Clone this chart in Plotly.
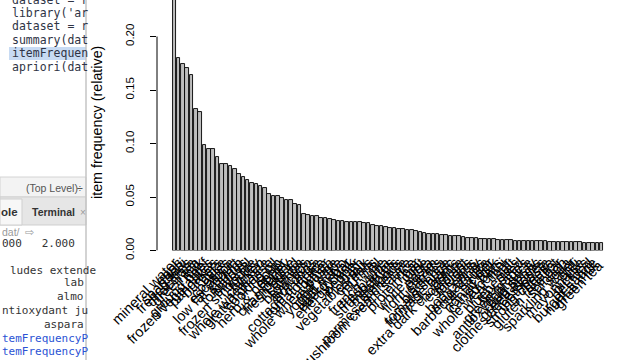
import plotly.graph_objects as go

# ---------------- data ----------------
n_transactions = 7501
items = [
    "mineral water", "eggs", "spaghetti", "french fries", "chocolate",
    "green tea", "milk", "ground beef", "frozen vegetables", "pancakes",
    "burgers", "cake", "cookies", "escalope", "low fat yogurt",
    "shrimp", "tomatoes", "olive oil", "frozen smoothie", "turkey",
    "chicken", "whole wheat rice", "grated cheese", "cooking oil", "soup",
    "herb & pepper", "honey", "champagne", "fresh bread", "salmon",
    "brownies", "avocado", "hot dogs", "cottage cheese", "tomato juice",
    "butter", "whole wheat pasta", "red wine", "yogurt cake", "light mayo",
    "energy bar", "energy drink", "pepper", "ham", "vegetables mix",
    "cereals", "muffins", "oil", "french wine", "fresh tuna",
    "strawberries", "meatballs", "almonds", "parmesan cheese", "mushroom cream sauce",
    "rice", "protein bar", "mint", "white wine", "pasta",
    "light cream", "carrots", "black tea", "tomato sauce", "fromage blanc",
    "gums", "extra dark chocolate", "eggplant", "melons", "yams",
    "body spray", "magazines", "barbecue sauce", "cider", "nonfat milk",
    "candy bars", "zucchini", "whole weat flour", "salt", "blueberries",
    "flax seed", "green grapes", "antioxydant juice", "bug spray", "green beans",
    "clothes accessories", "toothpaste", "strong cheese", "shallot", "gluten free bar",
    "spinach", "soda", "sparkling water", "chili", "mayonnaise",
    "pickles", "pet food", "burger sauce", "nonfat milk ", "green tea ",
]
counts = [
    1788, 1348, 1306, 1282, 1229,
    991, 972, 737, 715, 713,
    654, 608, 603, 595, 574,
    536, 513, 494, 475, 469,
    450, 439, 393, 383, 379,
    371, 356, 351, 323, 319,
    253, 250, 243, 239, 228,
    226, 221, 211, 205, 204,
    203, 200, 199, 199, 193,
    193, 181, 173, 169, 167,
    160, 157, 153, 149, 143,
    141, 139, 131, 124, 118,
    117, 115, 107, 106, 102,
    101, 99, 97, 90, 88,
    86, 84, 82, 80, 78,
    77, 75, 73, 71, 70,
    69, 68, 67, 67, 66,
    65, 64, 63, 63, 62,
    61, 60, 59, 58, 57,
    56, 55, 54, 53, 53,
]
support = [c / n_transactions for c in counts]

y_tick_vals = [0.00, 0.05, 0.10, 0.15, 0.20]
y_tick_text = ["0.00", "0.05", "0.10", "0.15", "0.20"]
y_title = "item frequency (relative)"

editor_lines = ["dataset = r", "library('ar", "dataset = r", "summary(dat", "itemFrequen", "apriori(dat"]
console_lines_left = ["000   2.000", "ludes extende", "ntioxydant ju", "temFrequencyP", "temFrequencyP"]
console_lines_right = ["lab", "almo", "aspara"]

# ---------------- layout helpers ----------------
W, H = 640, 360
def X(px):
    return px / W
def Y(py):
    return 1 - py / H

pitch = 4.317
first_center = 174.3
axis_left_px = 157
plot_right_px = 615
zero_px = 250.5
px_per_unit = 1070.0

x_lo = (axis_left_px - first_center) / pitch
x_hi = (plot_right_px - first_center) / pitch

fig = go.Figure()
fig.add_trace(go.Bar(
    x=list(range(len(items))), y=support,
    width=1 / 1.2,
    marker=dict(color="#bebebe", line=dict(color="black", width=0.9)),
    hoverinfo="skip",
))

shapes = []
annotations = []

# y axis line (R style: from first to last tick)
shapes.append(dict(type="line", xref="paper", yref="y",
                   x0=X(axis_left_px), x1=X(axis_left_px), y0=0, y1=0.20,
                   line=dict(color="black", width=1)))

# ---- left RStudio pane ----
shapes.append(dict(type="rect", xref="paper", yref="paper", x0=0, x1=X(86), y0=0, y1=1,
                   fillcolor="white", line=dict(width=0), layer="below"))
# highlighted editor line
shapes.append(dict(type="rect", xref="paper", yref="paper", x0=X(9), x1=X(86), y0=Y(60), y1=Y(47),
                   fillcolor="#c8dbf3", line=dict(width=0), layer="below"))
# status bar
shapes.append(dict(type="rect", xref="paper", yref="paper", x0=0, x1=X(86), y0=Y(197), y1=Y(177),
                   fillcolor="#f3f3f3", line=dict(color="#d4d4d4", width=1), layer="below"))
# tab bar
shapes.append(dict(type="rect", xref="paper", yref="paper", x0=0, x1=X(86), y0=Y(225), y1=Y(197),
                   fillcolor="#e6e6e6", line=dict(color="#cfcfcf", width=1), layer="below"))
shapes.append(dict(type="rect", xref="paper", yref="paper", x0=0, x1=X(22), y0=Y(225), y1=Y(199),
                   fillcolor="#f7f7f7", line=dict(color="#cfcfcf", width=1), layer="below"))
# plot window edge
shapes.append(dict(type="line", xref="paper", yref="paper", x0=X(86), x1=X(86), y0=0, y1=1,
                   line=dict(color="#c4c4c4", width=1.5)))

mono = "DejaVu Sans Mono"
code_color = "#2f3445"
for i, t in enumerate(editor_lines):
    annotations.append(dict(xref="paper", yref="paper", x=X(10), y=Y(-0.5 + 13.4 * i), text=t,
                            showarrow=False, xanchor="left", yanchor="middle",
                            font=dict(family=mono, size=11.5, color=code_color)))

annotations.append(dict(xref="paper", yref="paper", x=X(24), y=Y(188), text="(Top Level)",
                        showarrow=False, xanchor="left", yanchor="middle",
                        font=dict(family="Liberation Sans", size=10.5, color="#555555")))
annotations.append(dict(xref="paper", yref="paper", x=X(75), y=Y(188), text="÷",
                        showarrow=False, xanchor="left", yanchor="middle",
                        font=dict(family="Liberation Sans", size=10.5, color="#555555")))
annotations.append(dict(xref="paper", yref="paper", x=X(-1), y=Y(212), text="<b>ole</b>",
                        showarrow=False, xanchor="left", yanchor="middle",
                        font=dict(family="Liberation Sans", size=11.5, color="#333333")))
annotations.append(dict(xref="paper", yref="paper", x=X(30), y=Y(212), text="<b>Terminal</b>",
                        showarrow=False, xanchor="left", yanchor="middle",
                        font=dict(family="Liberation Sans", size=10.5, color="#333333")))
annotations.append(dict(xref="paper", yref="paper", x=X(78), y=Y(212), text="×",
                        showarrow=False, xanchor="left", yanchor="middle",
                        font=dict(family="Liberation Sans", size=10, color="#9a9a9a")))
annotations.append(dict(xref="paper", yref="paper", x=X(0), y=Y(232), text="dat/  ⇨",
                        showarrow=False, xanchor="left", yanchor="middle",
                        font=dict(family="Liberation Sans", size=10.5, color="#9a9a9a")))

console_y_left = [243, 270, 310.7, 338.3, 351.7]
console_x_left = [0, 8, 0, 0, 0]
console_colors = ["#333333", "#333333", "#333333", "#2a52d4", "#2a52d4"]
for t, yy, xx, cc in zip(console_lines_left, console_y_left, console_x_left, console_colors):
    annotations.append(dict(xref="paper", yref="paper", x=X(xx), y=Y(yy), text=t,
                            showarrow=False, xanchor="left", yanchor="middle",
                            font=dict(family=mono, size=11, color=cc)))
for t, yy in zip(console_lines_right, [282.7, 296.7, 324]):
    annotations.append(dict(xref="paper", yref="paper", x=X(86), y=Y(yy), text=t,
                            showarrow=False, xanchor="right", yanchor="middle",
                            font=dict(family=mono, size=11, color="#333333")))

# y axis title
annotations.append(dict(xref="paper", yref="paper", x=X(97), y=Y(123), text=y_title,
                        showarrow=False, textangle=-90, xanchor="center", yanchor="middle",
                        font=dict(family="Liberation Sans", size=14.3, color="black")))

fig.update_layout(
    width=W, height=H,
    margin=dict(l=0, r=0, t=0, b=0),
    paper_bgcolor="white", plot_bgcolor="white",
    showlegend=False,
    bargap=0,
    shapes=shapes,
    annotations=annotations,
    xaxis=dict(domain=[X(axis_left_px), X(plot_right_px)], range=[x_lo, x_hi],
               tickmode="array", tickvals=list(range(len(items))), ticktext=items,
               tickangle=-45, ticks="", ticklabelstandoff=0,
               tickfont=dict(family="Liberation Sans", size=14.5, color="black"),
               showgrid=False, zeroline=False, showline=False, automargin=False),
    yaxis=dict(domain=[Y(zero_px), 1], range=[0, zero_px / px_per_unit],
               tickmode="array", tickvals=y_tick_vals, ticktext=y_tick_text,
               tickangle=-90, ticks="outside", ticklen=6, tickwidth=1, tickcolor="black",
               ticklabelstandoff=11,
               tickfont=dict(family="Liberation Sans", size=11.5, color="black"),
               showgrid=False, zeroline=False, showline=False, automargin=False),
)

fig.write_html("out.html")
